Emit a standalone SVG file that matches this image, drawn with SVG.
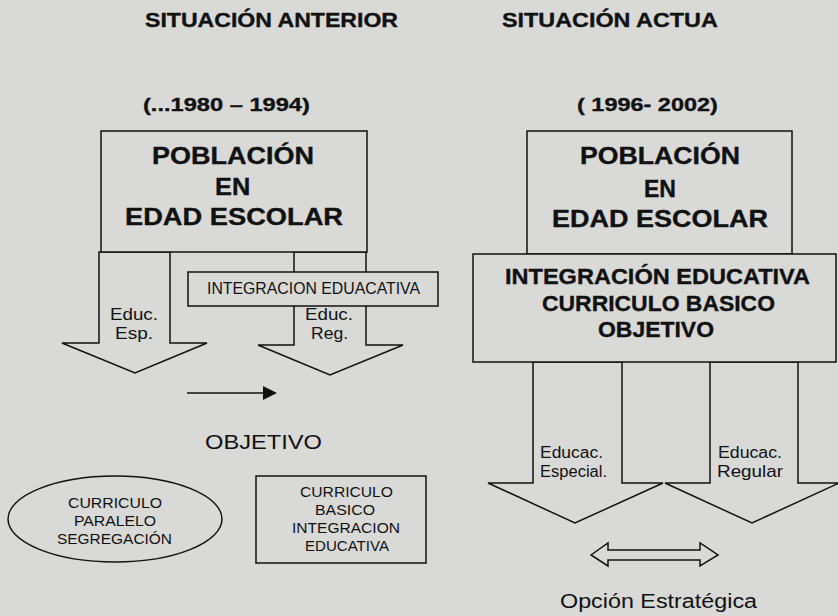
<svg xmlns="http://www.w3.org/2000/svg" width="838" height="616" viewBox="0 0 838 616">
<style>
.bg{fill:#d9d9d7}
.shape{fill:#d9d9d7;stroke:#111;stroke-width:1.5}
.t{font-family:"Liberation Sans",Arial,sans-serif;fill:#111}
.b{font-weight:bold;stroke:#111;stroke-width:0.35}
.line{stroke:#111;stroke-width:1.5;fill:none}
</style>
<defs>
<marker id="tri" markerWidth="14" markerHeight="14" refX="0" refY="7" orient="auto" markerUnits="userSpaceOnUse" viewBox="0 0 14 14">
<path d="M0,0 L14,7 L0,14 z" fill="#111"/>
</marker>
</defs>
<rect class="bg" x="0" y="0" width="838" height="616"/>

<g id="titles">
<text class="t b" transform="translate(145,27) scale(1.15,1)" font-size="20" textLength="220" lengthAdjust="spacingAndGlyphs">SITUACIÓN ANTERIOR</text>
<text class="t b" transform="translate(502,27) scale(1.3,1)" font-size="20" textLength="166" lengthAdjust="spacingAndGlyphs">SITUACIÓN ACTUA</text>
<text class="t b" transform="translate(143,111) scale(1.245,1)" font-size="19" textLength="134" lengthAdjust="spacingAndGlyphs">(...1980 – 1994)</text>
<text class="t b" transform="translate(577,111) scale(1.236,1)" font-size="19" textLength="114" lengthAdjust="spacingAndGlyphs">( 1996- 2002)</text>
</g>

<!-- LEFT DIAGRAM -->
<g id="arrow-esp">
<polygon class="shape" points="99,252 170,252 170,343 207,343 135,373 62,343 99,343"/>
<text class="t" transform="translate(110,320) scale(1.17,1)" font-size="16" textLength="41" lengthAdjust="spacingAndGlyphs">Educ.</text>
<text class="t" transform="translate(115,339) scale(1.19,1)" font-size="16" textLength="32" lengthAdjust="spacingAndGlyphs">Esp.</text>
</g>
<g id="arrow-reg">
<polygon class="shape" points="294,252 366,252 366,345 403,345 330,375 258,345 294,345"/>
<text class="t" transform="translate(305,320) scale(1.17,1)" font-size="16" textLength="41" lengthAdjust="spacingAndGlyphs">Educ.</text>
<text class="t" transform="translate(311,339) scale(1.09,1)" font-size="16" textLength="34" lengthAdjust="spacingAndGlyphs">Reg.</text>
</g>
<g id="poblacion-left">
<rect class="shape" x="101" y="131" width="266" height="121"/>
<text class="t b" transform="translate(152,164) scale(1.174,1)" font-size="23" textLength="138" lengthAdjust="spacingAndGlyphs">POBLACIÓN</text>
<text class="t b" transform="translate(215,195) scale(1.1,1)" font-size="23" textLength="32" lengthAdjust="spacingAndGlyphs">EN</text>
<text class="t b" transform="translate(125,225) scale(1.185,1)" font-size="23" textLength="184" lengthAdjust="spacingAndGlyphs">EDAD ESCOLAR</text>
</g>
<g id="integracion-left">
<rect class="shape" x="188" y="272" width="250" height="34"/>
<text class="t" x="207" y="294" font-size="16" textLength="213" lengthAdjust="spacingAndGlyphs">INTEGRACION EDUACATIVA</text>
</g>
<g id="objetivo-left">
<text class="t" transform="translate(205,449) scale(1.13,1)" font-size="21" textLength="103.5" lengthAdjust="spacingAndGlyphs">OBJETIVO</text>
</g>
<g id="curriculo-paralelo">
<ellipse class="shape" cx="115" cy="519" rx="107" ry="43"/>
<text class="t" x="68" y="508" font-size="15" textLength="94" lengthAdjust="spacingAndGlyphs">CURRICULO</text>
<text class="t" x="74" y="526" font-size="15" textLength="82" lengthAdjust="spacingAndGlyphs">PARALELO</text>
<text class="t" x="57" y="544" font-size="15" textLength="115" lengthAdjust="spacingAndGlyphs">SEGREGACIÓN</text>
</g>
<g id="curriculo-basico">
<rect class="shape" x="256" y="476" width="170" height="87"/>
<text class="t" x="300" y="497" font-size="15" textLength="93" lengthAdjust="spacingAndGlyphs">CURRICULO</text>
<text class="t" x="315" y="515" font-size="15" textLength="60" lengthAdjust="spacingAndGlyphs">BASICO</text>
<text class="t" x="292" y="533" font-size="15" textLength="108" lengthAdjust="spacingAndGlyphs">INTEGRACION</text>
<text class="t" x="305" y="551" font-size="15" textLength="84" lengthAdjust="spacingAndGlyphs">EDUCATIVA</text>
</g>

<!-- RIGHT DIAGRAM -->
<g id="poblacion-right">
<rect class="shape" x="527" y="131" width="265" height="123"/>
<text class="t b" transform="translate(580,164) scale(1.159,1)" font-size="23" textLength="138" lengthAdjust="spacingAndGlyphs">POBLACIÓN</text>
<text class="t b" x="644" y="197" font-size="23" textLength="32" lengthAdjust="spacingAndGlyphs">EN</text>
<text class="t b" transform="translate(552,227) scale(1.174,1)" font-size="23" textLength="184" lengthAdjust="spacingAndGlyphs">EDAD ESCOLAR</text>
</g>
<g id="arrow-especial">
<polygon class="shape" points="533,362 622,362 622,483 663,483 575,523 488,483 533,483"/>
<text class="t" x="540" y="458" font-size="16" textLength="63" lengthAdjust="spacingAndGlyphs">Educac.</text>
<text class="t" x="540" y="477" font-size="16" textLength="67" lengthAdjust="spacingAndGlyphs">Especial.</text>
</g>
<g id="arrow-regular">
<polygon class="shape" points="710,362 798,362 798,483 839,483 752,523 665,483 710,483"/>
<text class="t" x="718" y="458" font-size="16" textLength="64" lengthAdjust="spacingAndGlyphs">Educac.</text>
<text class="t" transform="translate(717,477) scale(1.18,1)" font-size="16" textLength="56" lengthAdjust="spacingAndGlyphs">Regular</text>
</g>
<g id="integracion-right">
<rect class="shape" x="473" y="254" width="363" height="108"/>
<text class="t b" x="505" y="284" font-size="22" textLength="305" lengthAdjust="spacingAndGlyphs">INTEGRACIÓN EDUCATIVA</text>
<text class="t b" x="542" y="311" font-size="22" textLength="233" lengthAdjust="spacingAndGlyphs">CURRICULO BASICO</text>
<text class="t b" x="598" y="337" font-size="22" textLength="116" lengthAdjust="spacingAndGlyphs">OBJETIVO</text>
</g>
<g id="opcion">
<text class="t" transform="translate(560,608) scale(1.11,1)" font-size="21" textLength="177.5" lengthAdjust="spacingAndGlyphs">Opción Estratégica</text>
</g>

<g id="connectors">
<line class="line" x1="187" y1="393" x2="263" y2="393" marker-end="url(#tri)"/>
<polygon class="shape" points="591,555 608,543 608,550 700,550 700,543 718,555 700,566 700,560 608,560 608,566"/>
</g>
</svg>
